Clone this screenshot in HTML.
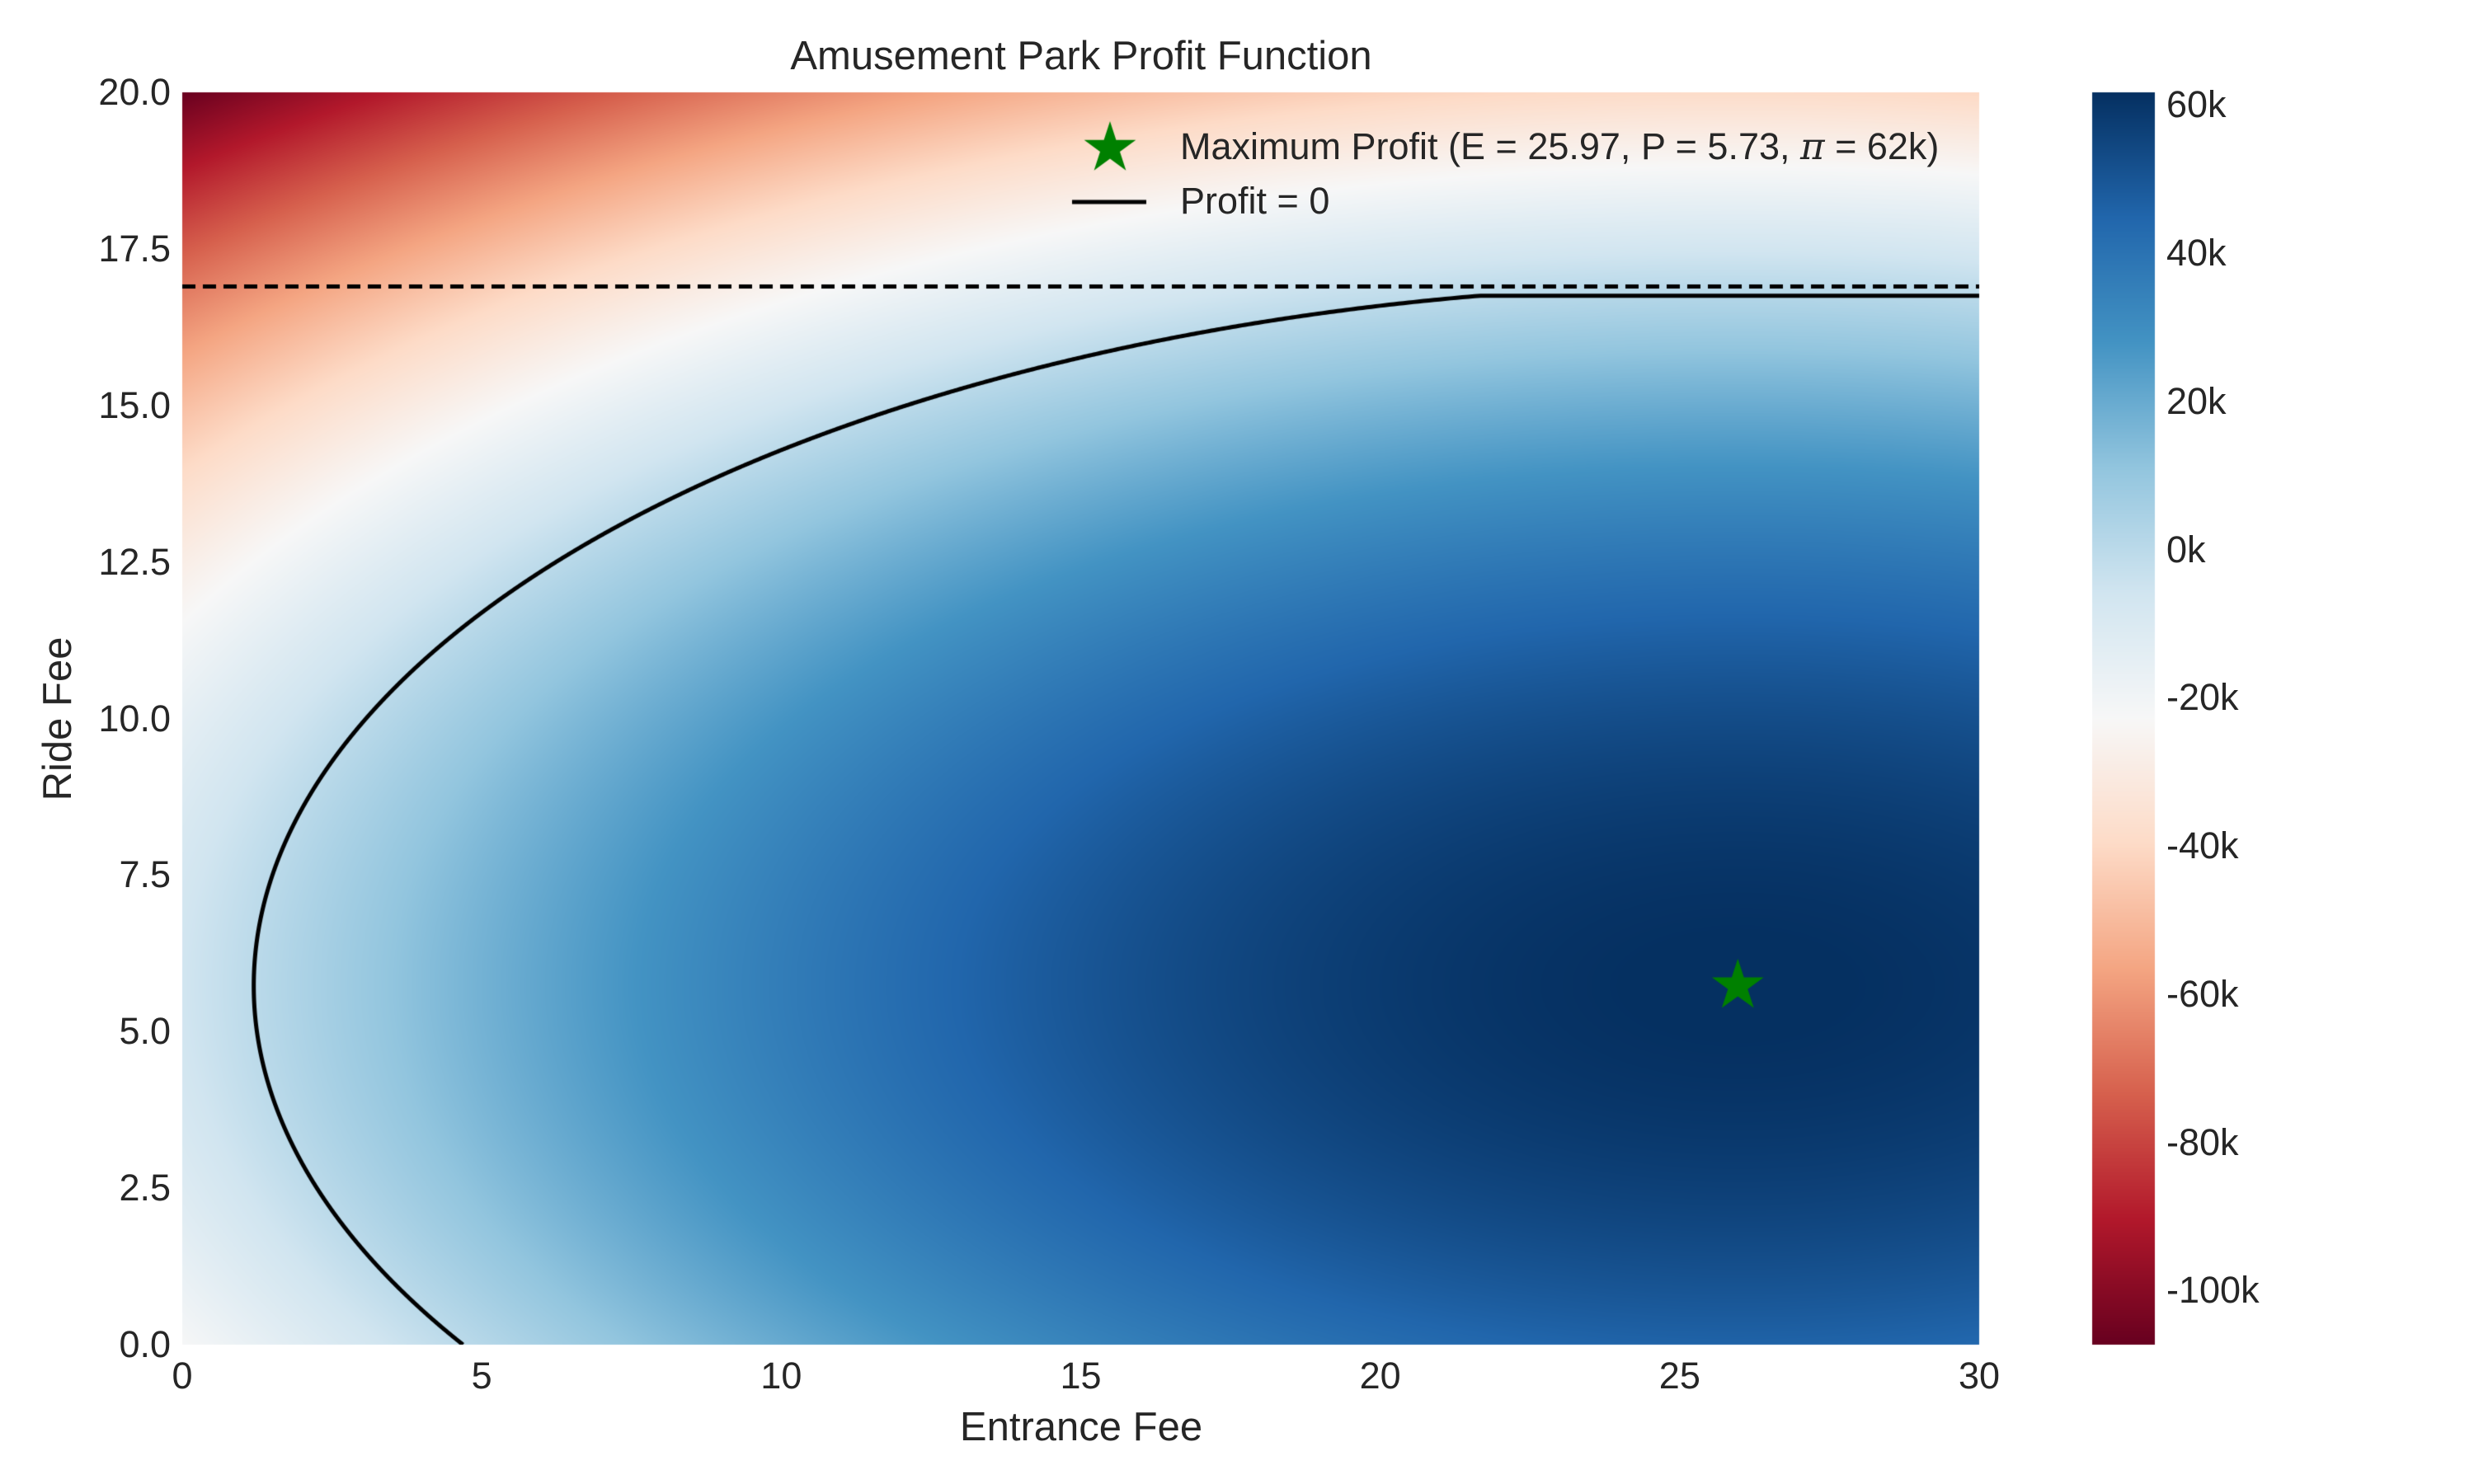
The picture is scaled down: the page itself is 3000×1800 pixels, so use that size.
<!DOCTYPE html>
<html><head><meta charset="utf-8"><style>
html,body{margin:0;padding:0;background:#fff;}
body{width:3000px;height:1800px;position:relative;overflow:hidden;font-family:"Liberation Sans",Arial,sans-serif;color:#262626;}
.t{position:absolute;white-space:nowrap;font-size:45px;}
canvas{position:absolute;left:0;top:0;}
</style></head><body>
<canvas id="c" width="3000" height="1800"></canvas>
<div class="t" style="left:1311px;width:0;top:40px;font-size:49px;"><span style="position:absolute;transform:translateX(-50%);">Amusement Park Profit Function</span></div>
<div class="t" style="left:1311px;width:0;top:1703px;font-size:49px;"><span style="position:absolute;transform:translateX(-50%);">Entrance Fee</span></div>
<div class="t" style="left:70px;top:872px;font-size:49px;transform:translate(-50%,-50%) rotate(-90deg);">Ride Fee</div>
<div class="t" style="left:1431px;top:151px;font-size:45px;">Maximum Profit (E = 25.97, P = 5.73, <i style="font-family:'DejaVu Serif',serif;">π</i> = 62k)</div>
<div class="t" style="left:1431px;top:218px;font-size:45px;">Profit = 0</div>
<div id="labels"></div>
<script>
const L=221,R=2400,T=112,B=1631,W=R-L,H=B-T;
const cbL=2537,cbR=2613;
const vmin=-107300,vmax=61700;
const cm=[[103,0,31],[178,24,43],[214,96,77],[244,165,130],[253,219,199],[247,247,247],[209,229,240],[146,197,222],[67,147,195],[33,102,172],[5,48,97]];
function col(v){let t=(v-vmin)/(vmax-vmin);t=Math.max(0,Math.min(1,t))*10;let i=Math.min(9,Math.floor(t));let f=t-i;let a=cm[i],b=cm[i+1];return [a[0]+(b[0]-a[0])*f,a[1]+(b[1]-a[1])*f,a[2]+(b[2]-a[2])*f];}
function prof(E,P){return 62000-101*(E-25.97)**2-495*(P-5.73)**2;}
const c=document.getElementById('c'),x=c.getContext('2d');
let img=x.createImageData(W,H);
for(let j=0;j<H;j++){let P=20*(1-(j+0.5)/H);for(let i=0;i<W;i++){let E=30*(i+0.5)/W;let k=col(prof(E,P));let o=(j*W+i)*4;img.data[o]=k[0];img.data[o+1]=k[1];img.data[o+2]=k[2];img.data[o+3]=255;}}
x.putImageData(img,L,T);
let cw=cbR-cbL;let cb=x.createImageData(cw,H);
for(let j=0;j<H;j++){let v=vmax-(vmax-vmin)*(j+0.5)/H;let k=col(v);for(let i=0;i<cw;i++){let o=(j*cw+i)*4;cb.data[o]=k[0];cb.data[o+1]=k[1];cb.data[o+2]=k[2];cb.data[o+3]=255;}}
x.putImageData(cb,cbL,T);
const px=E=>L+E/30*W, py=P=>B-P/20*H;
x.save();x.beginPath();x.rect(L,T,W,H);x.clip();
x.strokeStyle='#000';x.lineWidth=5;x.lineJoin='round';x.beginPath();
let first=true;const Pm=5.73+Math.sqrt(62000/495);
const cl=P=>Math.min(P,16.75);
for(let n=0;n<=2000;n++){let P=Pm*n/2000;let r=(62000-495*(P-5.73)**2)/101;if(r<0)r=0;let E=25.97-Math.sqrt(r);if(first){x.moveTo(px(E),py(cl(P)));first=false}else x.lineTo(px(E),py(cl(P)));}
for(let n=2000;n>=0;n--){let P=Pm*n/2000;let r=(62000-495*(P-5.73)**2)/101;if(r<0)r=0;let E=25.97+Math.sqrt(r);if(E>30.2)break;x.lineTo(px(E),py(cl(P)));}
x.stroke();
x.setLineDash([16,9]);x.lineWidth=5;x.beginPath();x.moveTo(L,py(16.9));x.lineTo(R,py(16.9));x.stroke();x.setLineDash([]);
x.restore();
function star(cx,cy,r){x.beginPath();for(let k=0;k<10;k++){let a=-Math.PI/2+k*Math.PI/5;let rr=k%2?r*0.382:r;x.lineTo(cx+rr*Math.cos(a),cy+rr*Math.sin(a));}x.closePath();x.fillStyle='#008000';x.fill();}
star(px(25.97),py(5.73),33);
star(1346,180,33);
x.strokeStyle='#000';x.lineWidth=5;x.beginPath();x.moveTo(1300,245);x.lineTo(1390,245);x.stroke();
let h='';
for(let e=0;e<=30;e+=5)h+=`<div class="t" style="left:${px(e)}px;top:1643px;"><span style="position:absolute;transform:translateX(-50%);">${e}</span></div>`;
for(let p=0;p<=20;p+=2.5)h+=`<div class="t" style="right:${3000-L+14}px;top:${py(p)-26}px;">${p.toFixed(1)}</div>`;
for(let v=-100;v<=60;v+=20){let y=T+(vmax-v*1000)/(vmax-vmin)*H;h+=`<div class="t" style="left:${cbR+14}px;top:${y-26}px;">${v}k</div>`;}
document.getElementById('labels').innerHTML=h;
</script>
</body></html>
